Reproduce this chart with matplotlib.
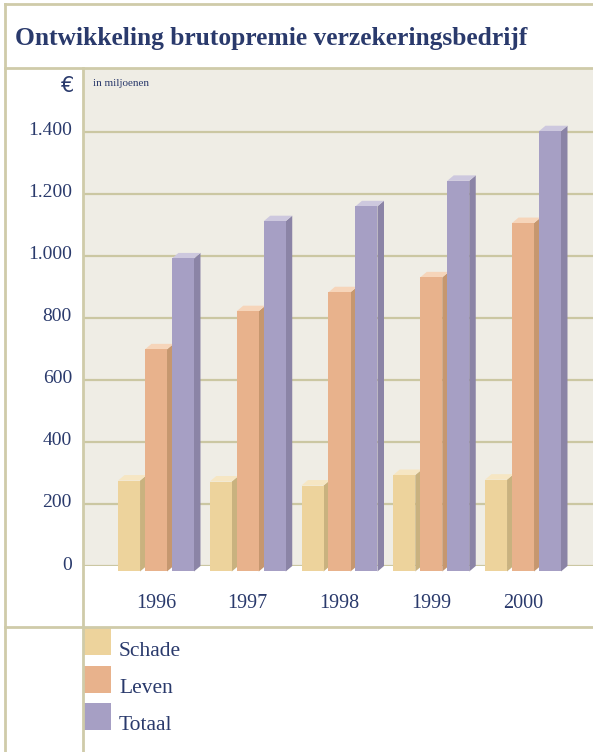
import matplotlib
matplotlib.use('Agg')
from matplotlib import pyplot as plt
from matplotlib.patches import Polygon, Rectangle
from matplotlib.lines import Line2D
from matplotlib.transforms import ScaledTranslation

# Data
jaren = ["1996", "1997", "1998", "1999", "2000"]
schade = [293, 290, 277, 311, 296]
leven = [716, 839, 900, 948, 1123]
totaal = [1009, 1129, 1177, 1259, 1419]
reeksen = ["Schade", "Leven", "Totaal"]
y_ticks = [0, 200, 400, 600, 800, 1000, 1200, 1400]
y_labels = ["0", "200", "400", "600", "800", "1.000", "1.200", "1.400"]

# Kleuren: voorkant, zijkant, bovenkant
kleuren = {
    "Schade": ("#edd39c", "#c9b27f", "#f6e6c3"),
    "Leven": ("#e8b28c", "#c6976f", "#f6d5ba"),
    "Totaal": ("#a69fc4", "#8b84a6", "#cdc8de"),
}
tekst = "#2a3a6c"
lijn = "#cfcba9"
W, H = 593, 752

plt.rcParams['font.family'] = ['Liberation Serif', 'DejaVu Serif']

fig = plt.figure(figsize=(W / 100, H / 100), dpi=100)
fig.patch.set_facecolor('white')

def fx(px):
    return px / W

def fy(py):
    return 1 - py / H

# plot-gebied
ax = fig.add_axes([fx(83), fy(566), fx(593) - fx(83), fy(68) - fy(566)])
ax.set_facecolor('#efede5')
ax.set_xlim(-0.8665, 4.692)
ax.set_ylim(0, 1605)
for s in ax.spines.values():
    s.set_visible(False)
ax.set_yticks(y_ticks, y_labels)
ax.yaxis.grid(True, color='#cbc7a2', linewidth=1.6)
ax.set_axisbelow(True)
ax.tick_params(axis='y', length=0, pad=8, labelsize=14, labelcolor=tekst)
for lbl in ax.get_yticklabels():
    lbl.set_transform(lbl.get_transform() + ScaledTranslation(0, 3 / 100, fig.dpi_scale_trans))

# 3D-staven
breedte = 0.24
stap = 0.294
ddx = 6.5 / 91.75
ddy = 17.7
for j, (naam, waarden) in enumerate(zip(reeksen, [schade, leven, totaal])):
    voor, zij, boven = kleuren[naam]
    for i, h in enumerate(waarden):
        xc = i + (j - 1) * stap
        xl_b, xr_b = xc - breedte / 2, xc + breedte / 2
        xl_f, xr_f = xl_b - ddx, xr_b - ddx
        ax.add_patch(Polygon([(xr_f, -ddy), (xr_f, h - ddy), (xr_b, h), (xr_b, 0)],
                             closed=True, facecolor=zij, edgecolor='none', clip_on=False, zorder=3))
        ax.add_patch(Polygon([(xl_f, h - ddy), (xr_f, h - ddy), (xr_b, h), (xl_b, h)],
                             closed=True, facecolor=boven, edgecolor='none', clip_on=False, zorder=3))
        ax.bar(xc - ddx, h, width=breedte, bottom=-ddy, color=voor, clip_on=False, zorder=3)

ax.set_xticks([i - ddx for i in range(len(jaren))], jaren)
ax.tick_params(axis='x', length=0, pad=20, labelsize=14.5, labelcolor=tekst)

# titel en teksten
fig.text(fx(15), fy(38), "Ontwikkeling brutopremie verzekeringsbedrijf", fontsize=18.4,
         fontweight='bold', color=tekst, ha='left', va='center')
fig.text(fx(74), fy(86), "€", fontsize=15, color=tekst, ha='right', va='center',
         family=['DejaVu Sans'])
fig.text(fx(93), fy(83), "in miljoenen", fontsize=8, color=tekst, ha='left', va='center')

# kaderlijnen
for x0, y0, x1, y1 in [(5, 4, 593, 4), (5, 4, 5, 752), (5, 68, 593, 68),
                       (5, 627, 593, 627), (83, 68, 83, 752)]:
    fig.add_artist(Line2D([fx(x0), fx(x1)], [fy(y0), fy(y1)], color=lijn, linewidth=2))

# legenda
for k, naam in enumerate(reeksen):
    y_top = 628 + k * 37.5
    fig.add_artist(Rectangle((fx(84), fy(y_top + 27)), fx(27), 27 / H,
                             facecolor=kleuren[naam][0], edgecolor='none'))
    fig.text(fx(119), fy(y_top + 23), naam, fontsize=15.5, color=tekst, ha='left', va='center')

fig.savefig('out.png', dpi=100)
